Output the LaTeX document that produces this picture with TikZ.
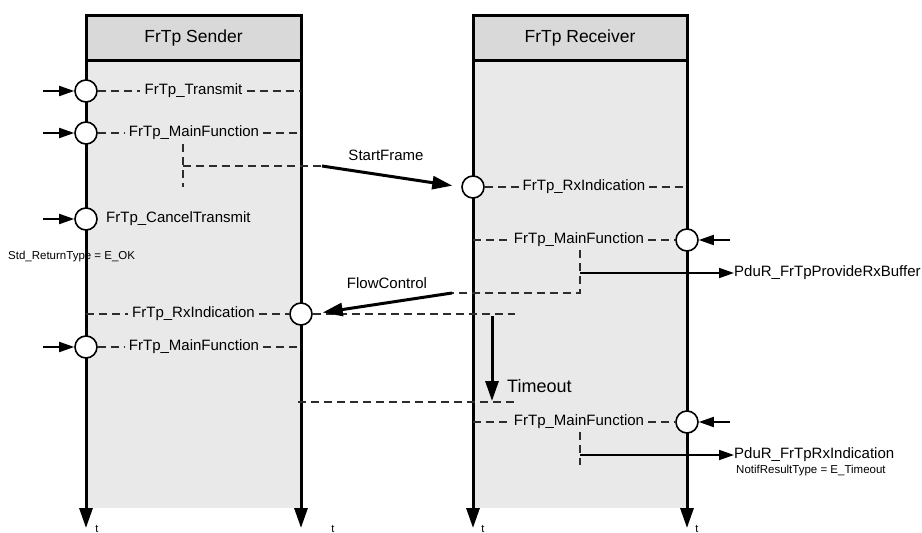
\documentclass[tikz,border=0pt]{standalone}
\usepackage{fontspec}
\setmainfont{Liberation Sans}
\usetikzlibrary{arrows.meta}
\definecolor{headgray}{RGB}{217,217,217}
\definecolor{bodygray}{RGB}{233,233,233}
\definecolor{dashgray}{RGB}{45,45,45}
\tikzset{
	head/.style={draw=black, fill=headgray, line width=3pt, minimum width=#1, minimum height=45pt, inner sep=0pt, font=\fontsize{17.5}{20}\selectfont},
	port/.style={circle, draw=black, fill=white, line width=1.6pt, minimum size=22pt, inner sep=0pt},
	fname/.style={inner sep=4pt, font=\fontsize{15}{18}\selectfont},
	small/.style={inner sep=0pt, font=\fontsize{11.5}{13}\selectfont},
	tlabel/.style={inner sep=0pt, font=\fontsize{11}{12}\selectfont},
	timeaxis/.style={line width=3pt, -{Triangle[length=20pt, width=13pt]}},
	dline/.style={dashgray, line width=1.2pt, dash pattern=on 8pt off 5pt},
	callarr/.style={line width=1.8pt, -{Triangle[length=15pt, width=10pt]}},
	msgarr/.style={line width=3pt, -{Triangle[length=20pt, width=13pt]}}
}

\begin{document}
\begin{tikzpicture}[x=1pt, y=-1pt]
	\useasboundingbox (0,0) rectangle (922,533);

	% --- bodies ---
	\fill[bodygray] (86,60) rectangle (301,508);
	\fill[bodygray] (473,60) rectangle (687,508);

	\node[head=215pt] (sendhead) at (193.5,37.5) {FrTp Sender};
	\node[head=214pt] (recvhead) at (580,37.5) {FrTp Receiver};

	% --- time axes ---
	\coordinate (sLtop) at (86,15);	\coordinate (sLbot) at (86,528);
	\coordinate (sRtop) at (301,15);	\coordinate (sRbot) at (301,528);
	\coordinate (rLtop) at (473,15);	\coordinate (rLbot) at (473,528);
	\coordinate (rRtop) at (687,15);	\coordinate (rRbot) at (687,528);
	\draw[timeaxis] (sLtop) -- (sLbot);
	\draw[timeaxis] (sRtop) -- (sRbot);
	\draw[timeaxis] (rLtop) -- (rLbot);
	\draw[timeaxis] (rRtop) -- (rRbot);
	\node[tlabel] (tsl) at (97,529) {t};
	\node[tlabel] (tsr) at (333,529) {t};
	\node[tlabel] (trl) at (483,529) {t};
	\node[tlabel] (trr) at (697,529) {t};

	% --- sender ---
	\node[fname] (sTxl) at (193.5,91) {FrTp\_Transmit};
	\node[fname] (sMf1l) at (194,133) {FrTp\_MainFunction};
	\node[fname, anchor=west] (sCanl) at (102,219) {FrTp\_CancelTransmit};
	\node[small, anchor=west] (sRet) at (8,257) {Std\_ReturnType = E\_OK};
	\node[fname] (sRxl) at (193.5,314) {FrTp\_RxIndication};
	\node[fname] (sMf2l) at (194,347) {FrTp\_MainFunction};

	\coordinate (sTxr) at (301,91);
	\coordinate (sMf1r) at (301,133);
	\coordinate (sRxs) at (86,314);
	\coordinate (sMf2r) at (301,347);
	\coordinate (sfTop) at (183,144);
	\coordinate (sfBot) at (183,187);
	\coordinate (sfMid) at (183,166);
	\coordinate (sfA) at (322,166);

	% --- receiver ---
	\node[fname] (rRxl) at (584,187) {FrTp\_RxIndication};
	\node[fname] (rMf1l) at (579,240) {FrTp\_MainFunction};
	\node[fname] (rMf2l) at (579,422) {FrTp\_MainFunction};
	\coordinate (rRxr) at (687,187);
	\coordinate (rMf1s) at (473,240);
	\coordinate (rMf2s) at (473,422);
	\coordinate (bufTop) at (580,250);
	\coordinate (bufMid) at (580,273);
	\coordinate (fcCorner) at (580,293);
	\coordinate (fcA) at (452,293);
	\coordinate (indTop) at (580,432);
	\coordinate (indMid) at (580,455);
	\coordinate (indBot) at (580,465);
	\coordinate (rxEnd) at (515,314);
	\coordinate (toS) at (298,402);
	\coordinate (toE) at (515,402);
	\coordinate (toA) at (492,316);
	\coordinate (toB) at (492,401);

	% --- dashed lines ---
	\draw[dline] (sTxl.east) -- (sTxr);
	\draw[dline] (sMf1l.east) -- (sMf1r);
	\draw[dline] (sfTop) -- (sfBot);
	\draw[dline] (sfMid) -- (sfA);
	\draw[dline] (sRxs) -- (sRxl.west);
	\draw[dline] (sMf2l.east) -- (sMf2r);
	\draw[dline] (rRxl.east) -- (rRxr);
	\draw[dline] (rMf1s) -- (rMf1l.west);
	\draw[dline] (bufTop) -- (fcCorner) -- (fcA);
	\draw[dline] (rMf2s) -- (rMf2l.west);
	\draw[dline] (indTop) -- (indBot);
	\draw[dline] (toS) -- (toE);

	% --- ports ---
	\node[port] (sTx) at (86,91) {};
	\node[port] (sMf1) at (86,133) {};
	\node[port] (sCan) at (86,219) {};
	\node[port] (sRx) at (301,314) {};
	\node[port] (sMf2) at (86,347) {};
	\node[port] (rRx) at (473,187) {};
	\node[port] (rMf1) at (687,240) {};
	\node[port] (rMf2) at (687,422) {};

	\draw[dline] (sTx.east) -- (sTxl.west);
	\draw[dline] (sMf1.east) -- (sMf1l.west);
	\draw[dline] (sRxl.east) -- (sRx.west);
	\draw[dline] (sRx.east) -- (rxEnd);
	\draw[dline] (sMf2.east) -- (sMf2l.west);
	\draw[dline] (rRx.east) -- (rRxl.west);
	\draw[dline] (rMf1l.east) -- (rMf1.west);
	\draw[dline] (rMf2l.east) -- (rMf2.west);

	% --- calls in ---
	\coordinate (sTxin) at (43,91);
	\coordinate (sMf1in) at (43,133);
	\coordinate (sCanin) at (43,219);
	\coordinate (sMf2in) at (43,347);
	\coordinate (rMf1in) at (730,240);
	\coordinate (rMf2in) at (730,422);
	\draw[callarr] (sTxin) -- (sTx.west);
	\draw[callarr] (sMf1in) -- (sMf1.west);
	\draw[callarr] (sCanin) -- (sCan.west);
	\draw[callarr] (sMf2in) -- (sMf2.west);
	\draw[callarr] (rMf1in) -- (rMf1.east);
	\draw[callarr] (rMf2in) -- (rMf2.east);

	% --- calls out ---
	\node[fname, anchor=west, inner sep=0pt] (bufl) at (734,273) {PduR\_FrTpProvideRxBuffer};
	\node[fname, anchor=west, inner sep=0pt] (indl) at (734,455) {PduR\_FrTpRxIndication};
	\node[small, anchor=west] (notif) at (736,471) {NotifResultType = E\_Timeout};
	\draw[callarr] (bufMid) -- (bufl.west);
	\draw[callarr] (indMid) -- (indl.west);

	% --- frames ---
	\draw[msgarr, shorten >=9pt] (sfA) -- (rRx.west);
	\node[fname] (sfl) at (386,155) {StartFrame};
	\draw[msgarr, shorten >=10pt] (fcA) -- (sRx.east);
	\node[fname] (fcl) at (387,283) {FlowControl};
	\draw[msgarr] (toA) -- (toB);
	\node[fname, anchor=west, font=\fontsize{18}{20}\selectfont] (tol) at (503,386) {Timeout};

\end{tikzpicture}
\end{document}
